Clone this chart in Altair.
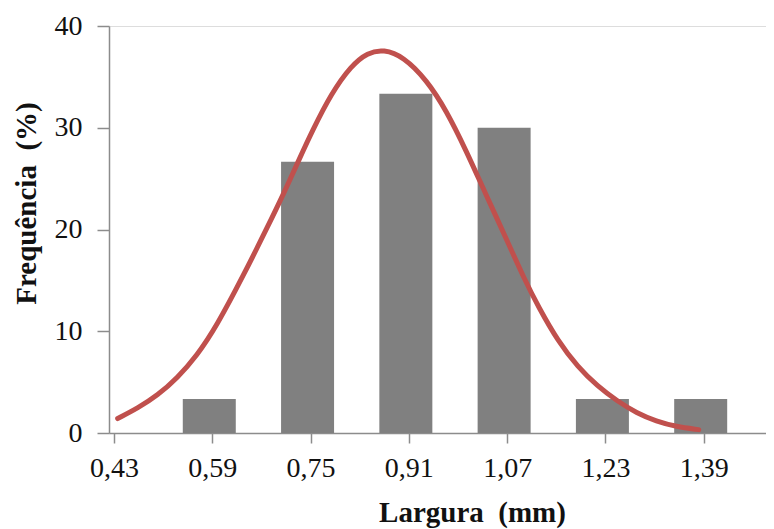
import altair as alt
import pandas as pd

# Histogram bins (class centres, mm) and frequencies (%)
bin_centres = [0.59, 0.75, 0.91, 1.07, 1.23, 1.39]
frequencies = [3.33, 26.67, 33.33, 30.0, 3.33, 3.33]

# Fitted normal curve
curve_x = [0.436, 0.469, 0.501, 0.533, 0.565, 0.597, 0.640, 0.682, 0.706, 0.733,
           0.752, 0.784, 0.816, 0.843, 0.869, 0.901, 0.939, 0.971, 1.003, 1.035,
           1.067, 1.099, 1.121, 1.153, 1.185, 1.217, 1.249, 1.281, 1.313, 1.345, 1.382]
curve_y = [1.42, 2.45, 3.7, 5.4, 7.6, 10.5, 15.4, 20.5, 23.5, 27.1,
           29.6, 33.4, 36.1, 37.4, 37.7, 37.0, 34.7, 31.7, 27.8, 23.5,
           19.3, 15.0, 12.4, 9.0, 6.5, 4.6, 3.15, 1.95, 1.15, 0.62, 0.33]

x_ticks = [0.43, 0.59, 0.75, 0.91, 1.07, 1.23, 1.39]
y_ticks = [0, 10, 20, 30, 40]

bars_df = pd.DataFrame({"x": bin_centres, "y": frequencies})
curve_df = pd.DataFrame({"x": curve_x, "y": curve_y})

FONT = "Liberation Serif"
AXIS_COLOR = "#8c8c8c"

x_scale = alt.Scale(domain=[0.43, 1.4833], nice=False, zero=False)
y_scale = alt.Scale(domain=[0, 40], nice=False)

x_axis = alt.Axis(
    values=x_ticks,
    labelExpr="replace(format(datum.value, '.2f'), '.', ',')",
    title="Largura\u00a0\u00a0(mm)",
    grid=False,
    domainColor=AXIS_COLOR, domainWidth=1.5,
    tickColor=AXIS_COLOR, tickWidth=1.5, tickSize=10,
    labelFont=FONT, labelFontSize=28, labelColor="#111111", labelPadding=11,
    labelFlush=False,
    titleFont=FONT, titleFontSize=29, titleFontWeight="bold", titleColor="#111111",
    titleX=363, titleY=94, titleAlign="center", titleBaseline="bottom",
)
y_axis = alt.Axis(
    values=y_ticks,
    title="Frequência\u00a0\u00a0(%)",
    grid=False,
    domainColor=AXIS_COLOR, domainWidth=1.5,
    tickColor=AXIS_COLOR, tickWidth=1.5, tickSize=12,
    labelFont=FONT, labelFontSize=28, labelColor="#111111", labelPadding=15,
    labelFlush=False,
    titleFont=FONT, titleFontSize=29, titleFontWeight="bold", titleColor="#111111",
    titleX=-83, titleY=177, titleAlign="center", titleBaseline="middle", titleAngle=270,
)

bars = alt.Chart(bars_df).mark_bar(size=53, color="#808080").encode(
    x=alt.X("x:Q", scale=x_scale, axis=x_axis),
    y=alt.Y("y:Q", scale=y_scale, axis=y_axis),
    xOffset=alt.value(-3),
)

line = alt.Chart(curve_df).mark_line(
    color="#C0504D", strokeWidth=5, interpolate="basis", strokeCap="round"
).encode(
    x=alt.X("x:Q", scale=x_scale),
    y=alt.Y("y:Q", scale=y_scale),
)

chart = alt.layer(bars, line).properties(
    width=657,
    height=407,
    autosize=alt.AutoSizeParams(type="none"),
    padding={"left": 101, "top": 18, "right": 0, "bottom": 96},
).configure_view(stroke=None).configure(background="white")

chart.save("out.html", embed_options={"renderer": "svg", "actions": False})
